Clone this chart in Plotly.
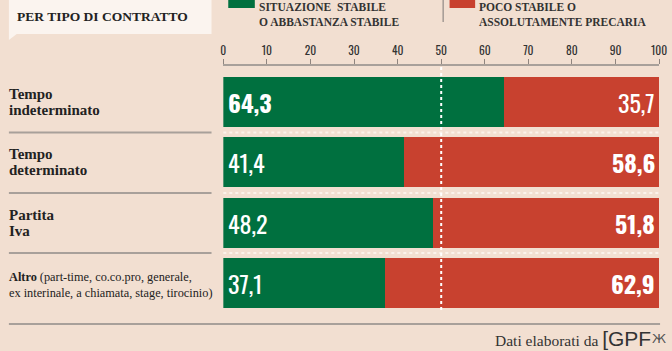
import plotly.graph_objects as go

categories = ["Tempo indeterminato", "Tempo determinato", "Partita Iva", "Altro"]
label_lines = [
    ["<b>Tempo</b>", "<b>indeterminato</b>"],
    ["<b>Tempo</b>", "<b>determinato</b>"],
    ["<b>Partita</b>", "<b>Iva</b>"],
    ["<b>Altro</b> (part-time, co.co.pro, generale,", "ex interinale, a chiamata, stage, tirocinio)"],
]
stabile = [64.3, 41.4, 48.2, 37.1]
precaria = [35.7, 58.6, 51.8, 62.9]
tick_vals = [0, 10, 20, 30, 40, 50, 60, 70, 80, 90, 100]
legend_labels = ["SITUAZIONE  STABILE<br>O ABBASTANZA STABILE", "POCO STABILE O<br>ASSOLUTAMENTE PRECARIA"]

W, H = 672, 351
BG = "#f2dfd1"
GREEN = "#00703f"
RED = "#c8412f"
SERIF = "Liberation Serif"
COND = "Oswald, Roboto Condensed, DejaVu Sans Condensed"

def py(p):
    return 1 - p / H

def px(p):
    return p / W

fig = go.Figure()
ypos = list(range(len(categories)))
fig.add_trace(go.Bar(y=ypos, x=stabile, orientation="h", marker=dict(color=GREEN, line=dict(width=0)),
                     hoverinfo="skip", name="stabile"))
fig.add_trace(go.Bar(y=ypos, x=precaria, orientation="h", marker=dict(color=RED, line=dict(width=0)),
                     hoverinfo="skip", name="precaria"))

def fmt(v):
    s = f"{v:.1f}".replace(".", ",")
    return f"<b>{s}</b>" if v > 50 else s

annotations = []
for i, (a, b) in enumerate(zip(stabile, precaria)):
    annotations.append(dict(x=0, y=i, xref="x", yref="y", text=fmt(a), showarrow=False,
                            xanchor="left", xshift=3,
                            font=dict(family=COND, size=24, color="white")))
    annotations.append(dict(x=100, y=i, xref="x", yref="y", text=fmt(b), showarrow=False,
                            xanchor="right", xshift=-2,
                            font=dict(family=COND, size=24, color="white")))
    big = i < 3
    for j, line in enumerate(label_lines[i]):
        shift = (8 - 16 * j) if big else (6 - 15.5 * j)
        annotations.append(dict(x=px(4), y=i, xref="paper", yref="y", text=line, showarrow=False,
                                xanchor="left", yanchor="middle", align="left", yshift=shift,
                                font=dict(family=SERIF, size=15 if big else 12.3, color="#222")))

# title
annotations.append(dict(x=px(12), y=py(17), xref="paper", yref="paper", text="<b>PER TIPO DI CONTRATTO</b>",
                        showarrow=False, xanchor="left", yanchor="middle",
                        font=dict(family=SERIF, size=13.5, color="#222")))
# legend texts
for x0, lab in zip([259, 483], legend_labels):
    annotations.append(dict(x=px(x0), y=py(15), xref="paper", yref="paper", text=f"<b>{lab}</b>",
                            showarrow=False, xanchor="left", yanchor="middle", align="left", borderpad=0,
                            font=dict(family=SERIF, size=11.5, color="#333")))
# footer
annotations.append(dict(x=px(661), y=py(338), xref="paper", yref="paper",
                        text="Dati elaborati da <span style='font-family:Liberation Sans;font-size:21px'>[GPF</span>",
                        showarrow=False, xanchor="right", yanchor="middle",
                        font=dict(family=SERIF, size=15.5, color="#333")))
annotations.append(dict(x=px(658), y=py(338), xref="paper", yref="paper", text="Ж",
                        showarrow=False, xanchor="left", yanchor="middle",
                        font=dict(family="DejaVu Sans", size=13, color="#555")))

shapes = []
# title box
shapes.append(dict(type="path", xref="paper", yref="paper",
                   path=f"M {px(6)},{py(0)} L {px(212)},{py(0)} L {px(212)},{py(34)} L {px(14)},{py(34)} L {px(6)},{py(40)} Z",
                   fillcolor="#fbf4ef", line=dict(width=0), layer="below"))
# legend squares and divider
shapes.append(dict(type="rect", xref="paper", yref="paper", x0=px(229), x1=px(256), y0=py(-2), y1=py(8),
                   fillcolor=GREEN, line=dict(width=0)))
shapes.append(dict(type="rect", xref="paper", yref="paper", x0=px(454), x1=px(480), y0=py(-2), y1=py(8),
                   fillcolor=RED, line=dict(width=0)))
shapes.append(dict(type="line", xref="paper", yref="paper", x0=px(447.5), x1=px(447.5), y0=py(0), y1=py(22),
                   line=dict(color="#a39a94", width=1.5)))
# row separators
for yy in [132.5, 193, 253]:
    shapes.append(dict(type="line", xref="paper", yref="paper", x0=px(6), x1=px(212), y0=py(yy), y1=py(yy),
                       line=dict(color="#a8a09a", width=2)))
    shapes.append(dict(type="line", xref="paper", yref="paper", x0=px(224), x1=px(668), y0=py(yy), y1=py(yy),
                       line=dict(color="#fbf2ea", width=2, dash="dot")))
# bottom line
shapes.append(dict(type="line", xref="paper", yref="paper", x0=px(6), x1=px(668), y0=py(324), y1=py(324),
                   line=dict(color="#a8a09a", width=2)))
# 50% dotted line
shapes.append(dict(type="line", xref="x", yref="paper", x0=50, x1=50, y0=py(310), y1=py(66),
                   line=dict(color="white", width=2, dash="dot")))

fig.update_layout(
    width=W, height=H, margin=dict(l=0, r=0, t=0, b=0),
    paper_bgcolor=BG, plot_bgcolor="rgba(0,0,0,0)",
    barmode="stack", bargap=0.17, showlegend=False,
    annotations=annotations, shapes=shapes,
    xaxis=dict(domain=[px(224), px(667)], range=[0, 100], anchor="free", position=py(65), side="top",
               tickvals=tick_vals, ticks="outside", ticklen=5, tickcolor="#8f857f", tickwidth=1,
               showline=True, linecolor="#a8a09a", linewidth=1.5, showgrid=False, zeroline=False,
               ticklabeloverflow="allow",
               tickfont=dict(family=COND, size=11.5, color="#333"), fixedrange=True),
    yaxis=dict(domain=[py(313.25), py(71.75)], range=[3.5, -0.5], showticklabels=False,
               showgrid=False, zeroline=False, showline=False, fixedrange=True),
)

fig.write_html("out.html")
